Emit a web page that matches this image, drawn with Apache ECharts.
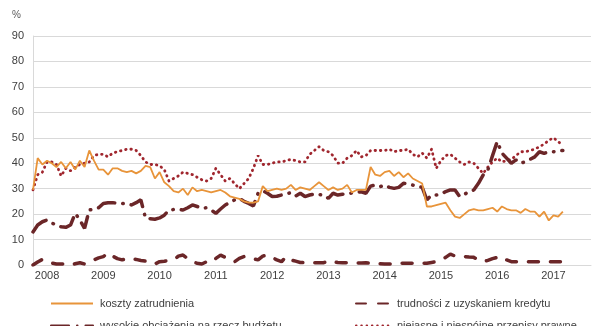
<!DOCTYPE html>
<html><head><meta charset="utf-8">
<script src="https://cdn.jsdelivr.net/npm/echarts@6/dist/echarts.min.js"></script>
<style>html,body{margin:0;padding:0;background:#fff}#c{width:595px;height:326px}</style>
</head><body><div id="c"></div>
<script>
// monthly categories Oct 2007 .. Sep 2017
const startYear = 2007, startMonth = 10, monthCount = 120;
const months = [];
for (let k = 0; k < monthCount; k++) {
  const t = startMonth - 1 + k;
  const y = startYear + Math.floor(t / 12), m = t % 12 + 1;
  months.push(y + '-' + (m < 10 ? '0' : '') + m);
}
const yTicks = [0, 10, 20, 30, 40, 50, 60, 70, 80, 90];
const seriesNames = ['koszty zatrudnienia', 'trudności z uzyskaniem kredytu', 'wysokie obciążenia na rzecz budżetu', 'niejasne i niespójne przepisy prawne'];

const koszty = [29.5,42,39.5,41,40,38.5,40.5,38,40.5,37.5,41,38.5,45,41,37.5,37.5,35.5,38,38,37,36.5,37,36,37,39,38.5,34,36.5,32.5,31,
29,28.5,30,27.5,30.5,29,29.5,29,28.5,29,29.5,28.5,27,26.5,26,25,24.5,24.5,25,31,29,29.5,30,29.5,30,31.5,29.5,30.5,30,29.5,
31,32.5,31,29.5,30.5,29.5,30,31.5,28.5,29.5,29.5,29.5,38.5,35.5,35,36.5,37,35,36.5,34.5,36,34,33,32,23,23,23.5,24,24.5,21.5,
19,18.5,20,21.5,22,21.5,21.5,22,22.5,21,23,22,21.5,21.5,20.5,22,21,21,19,21,17.5,19.5,19,21];
const kredyt = [0,1.2,2.2,1.5,0.8,0.4,0.4,0.4,0,0.5,0.9,0.4,1.3,2,2.8,3.3,4.8,3.5,2.5,2,2.6,2.4,2.2,1.8,1.5,1.3,0.4,1.3,1.5,1.8,
2,3.5,3.9,2.5,1.2,0.7,0.4,1.3,1,2.6,3.9,3,2,1.3,2.6,3.3,3,2.5,2,3.5,3.9,3,2,1.3,3.3,2,1.5,1,0.9,0.9,
0.9,0.9,0.9,1.7,1.3,1,0.9,0.9,0.9,0.8,0.8,0.9,0.7,0.6,0.5,0.4,0.4,0.5,0.7,0.7,0.7,0.7,0.7,0.7,0.7,1,1.3,2,3,4.3,
3.5,3.4,3.3,3.1,3,2,1.3,1.8,2.5,3,3.3,2,1.3,1.3,1.3,1.3,1.3,1.3,1.3,1.3,1.3,1.3,1.3,1.3];
const budzet = [13,15.7,17,17.7,16.5,15.7,15,14.8,15.7,20.3,17.7,14.4,21.6,22,22.5,24.2,24.5,24.5,24.3,24.2,24,23.6,24.5,25.6,18.4,18.2,18,18.5,19.6,21.6,
21.8,21.9,21.6,22.5,23.6,23,22.3,22.5,21.6,20.3,22,23.6,24.5,25.6,26.2,25,24.2,23.2,28.2,29.2,28.2,26.9,27,27.5,28,28.4,27.1,28.2,26.9,27.5,
27.9,27.7,27.5,26.2,28.2,27.5,27.8,28,28.3,28.5,28.8,28.2,31,31.4,30.8,31.4,30.5,30.1,30.5,32.1,31.8,31.4,31,30.5,25.6,27.5,27.5,28,28.8,29.5,
29.5,26.9,27.8,28.8,29.5,32.1,35.4,37.3,43,48.5,44,42,40,41.3,40,40.6,41.5,42.5,44.5,43.9,44.5,44.5,44.9,45];
const przepisy = [29.5,35.5,36.5,40.5,40.5,39.5,35,38,37,38.5,39.5,40,40.5,43,43.5,43.5,42.5,44,44.5,45,45.5,45.5,45,43,40.5,39.5,39.5,39,37.5,33,
34,35,36.5,36,35.5,34.5,33.5,33,34,38,35.5,33,34,32,30,32,34,38,43,39.5,39.5,40,40.5,40.5,41,41.5,41,40.5,40.5,43.5,
45,46.5,45,44.5,43,40,40,42,43,45,42.5,43,45,45,45,45,45.5,44.5,45,45,45.5,43.5,42.5,44,42,45.5,38,41,43,43.5,
42,40.5,39.5,40.5,40,38,36,38.5,40.5,42,40.5,41,41.5,43,44.5,44.5,45,45.5,46.5,47.5,49,50,48.5,47];

const chart = echarts.init(document.getElementById('c'), null, {renderer: 'canvas'});
const FONT = '"Liberation Sans", Arial, sans-serif';
function legendAt(name, left, top, w) {
  return {left: left, top: top, orient: 'horizontal', itemGap: 0, itemWidth: w, itemHeight: 8,
    itemStyle: {opacity: 0, color: 'transparent', borderWidth: 0},
    textStyle: {color: '#404040', fontSize: 11, fontFamily: FONT, padding: [0, 0, 0, 2]},
    data: [name]};
}
chart.setOption({
  animation: false,
  backgroundColor: '#ffffff',
  textStyle: {fontFamily: FONT},
  grid: {left: 33, right: 4, top: 36, bottom: 61, containLabel: false},
  graphic: [{type: 'text', left: 12, top: 10, style: {text: '%', fontSize: 10, fill: '#595959', fontFamily: FONT}}],
  xAxis: {
    type: 'category', data: months, boundaryGap: false,
    axisLine: {show: true, lineStyle: {color: '#d9d9d9', width: 1}},
    axisTick: {show: false},
    splitLine: {show: false},
    axisLabel: {
      interval: (i, v) => v.endsWith('-01'),
      formatter: v => v.slice(0, 4),
      color: '#404040', fontSize: 11, margin: 5, fontFamily: FONT
    }
  },
  yAxis: {
    type: 'value', min: yTicks[0], max: yTicks[yTicks.length - 1], interval: 10,
    axisLine: {show: true, lineStyle: {color: '#d9d9d9', width: 1}},
    axisTick: {show: false},
    splitLine: {show: true, lineStyle: {color: '#d9d9d9', width: 1}},
    axisLabel: {color: '#404040', fontSize: 11, margin: 9, fontFamily: FONT}
  },
  legend: [
    legendAt(seriesNames[0], 45, 293, 42),
    legendAt(seriesNames[2], 45, 315, 42),
    legendAt(seriesNames[1], 350, 293, 34),
    legendAt(seriesNames[3], 350, 315, 34)
  ],
  series: [
    {name: seriesNames[0], type: 'line', data: koszty, symbol: 'none', z: 4,
     itemStyle: {color: '#E8943A'},
     lineStyle: {color: '#E8943A', width: 1.8}},
    {name: seriesNames[1], type: 'line', data: kredyt, symbol: 'none', z: 3,
     itemStyle: {color: '#6B2628'},
     lineStyle: {color: '#6B2628', width: 3.5, type: [10, 12], cap: 'round'}},
    {name: seriesNames[2], type: 'line', data: budzet, symbol: 'none', z: 3,
     itemStyle: {color: '#6B2628'},
     lineStyle: {color: '#6B2628', width: 3.5, type: [18, 8, 0.5, 8], cap: 'round'}},
    {name: seriesNames[3], type: 'line', data: przepisy, symbol: 'none', z: 2,
     itemStyle: {color: '#A0262E'},
     lineStyle: {color: '#A0262E', width: 2.8, type: [0.5, 4.8], cap: 'round'}}
  ]
});
</script></body></html>
